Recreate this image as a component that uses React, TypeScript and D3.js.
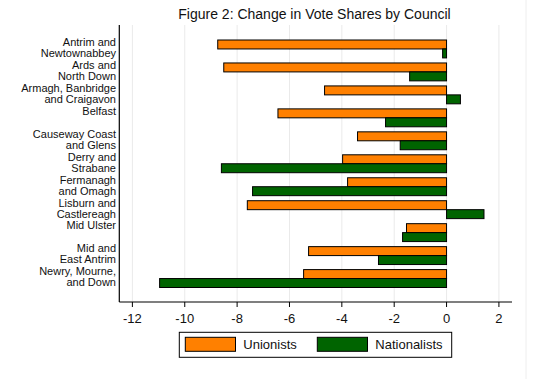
import React from "react";
import * as d3 from "d3";

const councils = [
  ["Antrim and", "Newtownabbey"],
  ["Ards and", "North Down"],
  ["Armagh, Banbridge", "and Craigavon"],
  ["Belfast", ""],
  ["Causeway Coast", "and Glens"],
  ["Derry and", "Strabane"],
  ["Fermanagh", "and Omagh"],
  ["Lisburn and", "Castlereagh"],
  ["Mid Ulster", ""],
  ["Mid and", "East Antrim"],
  ["Newry, Mourne,", "and Down"],
];
const unionists = [-8.74, -8.51, -4.66, -6.44, -3.4, -3.97, -3.78, -7.61, -1.53, -5.27, -5.46];
const nationalists = [-0.15, -1.41, 0.53, -2.33, -1.77, -8.6, -7.41, 1.43, -1.68, -2.6, -10.96];
const xTicks = [-12, -10, -8, -6, -4, -2, 0, 2];
const seriesNames = ["Unionists", "Nationalists"];
const colors = ["#FF8000", "#006400"];

export default function App() {
  const W = 554, H = 379;
  const font = "Liberation Sans, Arial, sans-serif";
  const plotTop = 25, plotBottom = 302, plotLeft = 119.3, plotRight = 512;
  const x = d3.scaleLinear().domain([-12.5, 2.5]).range([plotLeft, plotRight]);
  const keys = councils.map((c) => c.join(" "));
  const y = d3.scaleBand().domain(keys).range([40, 287.5]).paddingInner(0.22).paddingOuter(0);
  const bw = y.bandwidth();
  const half = bw / 2;
  const series = [unionists, nationalists];

  return (
    <svg width={W} height={H} style={{ position: "absolute", left: 0, top: 0, background: "#fff" }}>
      <rect x={0} y={0} width={W} height={H} fill="#fff" />
      <line x1={526} x2={526} y1={0} y2={H} stroke="#EEEEEE" strokeWidth={1} />
      {xTicks.map((t) => (
        <line key={"g" + t} x1={x(t)} x2={x(t)} y1={plotTop} y2={plotBottom} stroke="#EAEAEA" strokeWidth={1} />
      ))}
      <text x={314.5} y={19} textAnchor="middle" fontFamily={font} fontSize={14} fill="#111">
        Figure 2: Change in Vote Shares by Council
      </text>
      {keys.map((k, i) =>
        series.map((s, j) => {
          const v = s[i];
          const x0 = x(Math.min(0, v));
          const x1 = x(Math.max(0, v));
          return (
            <rect
              key={k + j}
              x={x0}
              y={(y(k) as number) + j * half}
              width={x1 - x0}
              height={half}
              fill={colors[j]}
              stroke="#000"
              strokeWidth={1}
            />
          );
        })
      )}
      {councils.map((c, i) => {
        const cy = (y(keys[i]) as number) + half;
        return (
          <g key={"l" + i} fontFamily={font} fontSize={11} fill="#111" textAnchor="end">
            <text x={116} y={cy - 7} dy="0.35em">{c[0]}</text>
            {c[1] && <text x={116} y={cy + 4} dy="0.35em">{c[1]}</text>}
          </g>
        );
      })}
      <line x1={plotLeft} x2={plotLeft} y1={plotTop} y2={plotBottom} stroke="#000" strokeWidth={1.2} />
      <line x1={plotLeft} x2={plotRight} y1={plotBottom} y2={plotBottom} stroke="#000" strokeWidth={1.2} />
      {xTicks.map((t) => (
        <g key={"t" + t}>
          <line x1={x(t)} x2={x(t)} y1={plotBottom} y2={plotBottom + 5} stroke="#000" strokeWidth={1} />
          <text x={x(t)} y={318.5} dy="0.35em" textAnchor="middle" fontFamily={font} fontSize={13} fill="#111">
            {t}
          </text>
        </g>
      ))}
      <rect x={179.3} y={332.3} width={272.4} height={25} fill="#fff" stroke="#000" strokeWidth={1} />
      {seriesNames.map((n, j) => {
        const sx = j === 0 ? 185.3 : 317.3;
        return (
          <g key={n}>
            <rect x={sx} y={337.3} width={50.2} height={14} fill={colors[j]} stroke="#000" strokeWidth={1} />
            <text x={sx + 58} y={344.5} dy="0.35em" fontFamily={font} fontSize={13} fill="#111">
              {n}
            </text>
          </g>
        );
      })}
    </svg>
  );
}
